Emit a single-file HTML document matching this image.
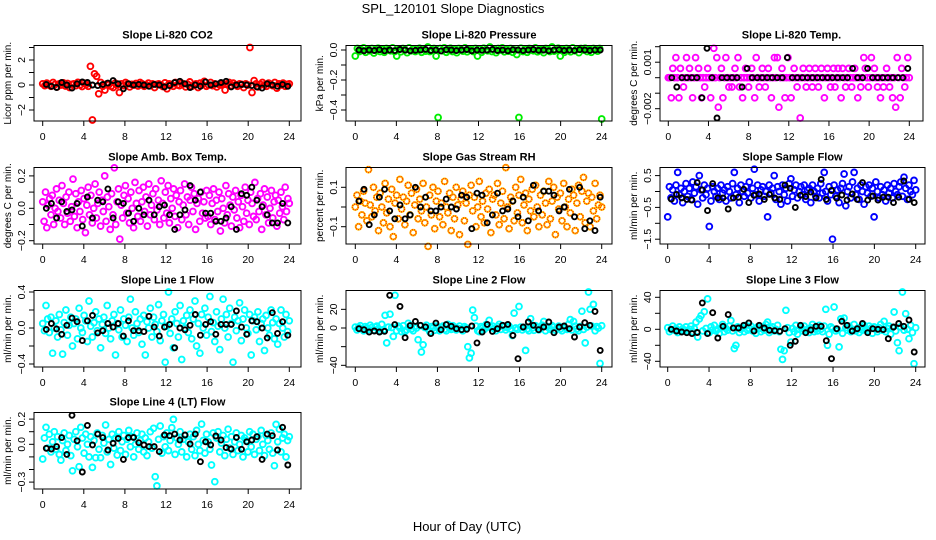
<!DOCTYPE html>
<html><head><meta charset="utf-8"><title>SPL_120101 Slope Diagnostics</title>
<style>
html,body{margin:0;padding:0;background:#fff;}
svg{display:block;font-family:"Liberation Sans",Arial,sans-serif;}
</style></head>
<body>
<svg id="chart" width="936" height="540" viewBox="0 0 936 540" xmlns="http://www.w3.org/2000/svg">
<rect x="0" y="0" width="936" height="540" fill="#fff"/>
<text x="453" y="13" text-anchor="middle" font-size="13">SPL_120101  Slope Diagnostics</text>
<text x="467" y="531" text-anchor="middle" font-size="13">Hour of Day (UTC)</text>
</svg>
<script>
const xTickLabels = [0,4,8,12,16,20,24];

const co2Vals = [0.1,-0.05,0.15,0.0,-0.1,0.2,0.05,-0.15,0.1,0.0,0.18,-0.08,0.12,-0.2,0.05,0.1,-0.05,0.22,0.0,-0.12,0.15,0.05,-0.1,1.5,-2.8,0.9,0.7,-0.7,0.2,-0.1,-0.4,0.1,0.05,-0.1,-0.2,0.15,0.0,-0.6,0.1,-0.05,0.2,0.1,-0.15,0.05,0.0,0.12,-0.08,0.2,0.1,-0.1,0.0,0.15,-0.05,0.1,-0.2,0.05,0.1,0.0,-0.12,0.18,-0.3,0.1,0.05,-0.1,0.2,0.0,-0.05,0.15,0.1,-0.15,0.05,0.25,-0.1,0.0,0.1,-0.2,0.15,0.05,0.3,-0.1,0.0,0.2,-0.05,0.1,-0.15,0.05,0.0,0.12,-0.4,0.1,0.2,-0.05,0.15,0.0,-0.1,0.1,0.05,-0.2,0.1,0.0,3.0,-0.6,0.35,0.1,-0.15,0.05,0.2,0.0,-0.1,0.15,0.05,-0.05,0.2,-0.25,0.1,0.0,0.15,-0.1,0.05,0.1];
const co2Black = [0.05,-0.1,-0.2,0.2,0.0,-0.25,0.1,0.25,0.2,0.0,-0.05,0.05,0.15,0.35,0.1,-0.3,0.1,0.0,0.05,0.0,-0.1,0.05,0.0,-0.15,-0.05,0.2,0.3,0.1,-0.2,0.0,-0.1,0.25,0.0,0.1,0.2,0.3,-0.15,0.0,0.05,0.0,-0.05,-0.15,-0.25,0.1,0.0,-0.1,0.05,-0.1];

const presVals = [-0.04,0.01,-0.01,0.0,0.015,-0.015,0.005,-0.005,0.01,-0.02,0.0,0.012,-0.01,0.005,-0.015,0.01,0.0,-0.005,0.015,-0.01,-0.04,0.005,-0.012,0.01,0.0,-0.018,0.015,-0.005,0.008,-0.01,0.0,0.012,-0.015,0.005,-0.008,0.02,-0.01,0.0,0.01,-0.04,-0.45,0.01,-0.005,0.015,-0.015,0.0,0.012,-0.01,0.005,-0.018,0.01,0.0,-0.008,0.015,-0.012,0.005,0.0,-0.01,0.01,-0.04,0.008,-0.015,0.012,0.0,-0.005,0.02,-0.01,0.005,-0.018,0.01,0.0,0.015,-0.012,0.005,-0.008,0.01,-0.015,0.0,-0.03,-0.45,0.012,-0.01,0.005,-0.015,0.01,0.0,-0.005,0.015,-0.012,0.008,0.0,-0.018,0.01,0.005,-0.01,0.02,-0.008,0.0,0.012,-0.04,0.005,-0.015,0.01,0.0,-0.012,0.015,-0.005,0.008,-0.018,0.01,0.0,0.012,-0.01,0.005,-0.015,0.01,0.0,-0.008,0.01,-0.46];
const presBlack = [0.0,-0.005,0.0,-0.003,0.002,-0.005,0.0,-0.004,0.003,0.0,-0.005,-0.002,0.0,0.004,-0.003,0.0,-0.006,0.002,0.0,-0.004,0.0,0.003,-0.005,0.0,-0.002,0.0,0.004,-0.003,0.0,-0.005,0.002,0.0,-0.004,0.0,0.003,-0.002,0.0,-0.005,0.0,0.002,-0.003,0.0,-0.004,0.002,0.0,-0.003,0.0,0.0];

const tempVals = [0,0,-0.0013,0.0006,0,0.0013,0,-0.0013,0.0006,0,-0.0006,0,0.0013,0,0.0006,0,-0.0013,0,0.0013,0,0.0006,0,-0.0013,0,-0.0006,0,0.0006,0,-0.0013,0,0.0019,0,0.0013,-0.0019,0,0.0006,-0.0013,0,0.0013,0,-0.0006,0,-0.0006,0,0.0006,0,0.0013,-0.0006,0,-0.0013,0,0.0006,0,-0.0006,0,0.0006,0,-0.0013,0.0013,0,-0.0006,0,0.0006,0,-0.0006,0,0.0006,0,-0.0013,0,0.0013,0,0.0013,-0.0019,0,0.0006,0,-0.0013,0,0.0013,0,-0.0013,0,0.0006,0,-0.0006,0,-0.0026,0,0.0006,0,-0.0006,0,0.0006,0,-0.0006,0,0.0006,0,-0.0006,0,0.0006,0,-0.0013,0,0.0006,0,-0.0006,0,0.0006,-0.0006,0,0.0006,0,-0.0013,0.0006,0,-0.0006,0,0.0006,0,-0.0006,0,0.0006,0,-0.0013,0,-0.0006,0,0.0013,0.0006,0,-0.0006,0,0.0013,0,0.0006,0,-0.0006,0,-0.0013,0,-0.0006,0,0.0006,0,-0.0006,0,-0.0013,0,-0.0019,0.0013,0,-0.0013,0.0006,0,-0.0006,0,0.0013,0];
const tempBlack = [0,-0.0006,0,0,0,0,-0.0013,0.0019,0,-0.0026,0,0,0,0,-0.0006,0.0006,0,0,0,0,0,0,0,0.0013,0,0,0,0,0,0,0,0,0,0,0,0,0.0006,0,0,0.0006,0,0,0,0,0,0,0,0.0006];

const ambVals = [0.04,-0.08,0.1,-0.12,0.02,0.06,-0.04,0.08,-0.1,0.0,0.12,-0.02,0.05,-0.06,0.14,0.03,-0.1,0.07,-0.03,0.1,-0.08,0.01,0.18,-0.05,0.09,-0.12,0.04,-0.02,0.11,-0.07,0.06,-0.15,0.02,0.13,-0.04,0.08,-0.09,0.0,0.15,-0.06,0.03,0.1,-0.11,0.05,-0.02,0.2,-0.08,0.07,0.01,-0.13,0.09,-0.04,0.25,-0.1,0.04,0.12,-0.19,0.02,-0.06,0.08,0.14,-0.03,0.06,-0.09,0.1,0.0,-0.12,0.16,0.03,-0.05,0.11,-0.08,0.04,0.13,-0.02,0.07,-0.11,0.15,-0.04,0.02,0.09,-0.07,0.12,-0.01,0.05,-0.1,0.17,0.03,-0.06,0.1,-0.03,0.14,-0.09,0.06,0.0,0.12,-0.05,0.08,-0.12,0.04,0.11,-0.07,0.02,0.15,-0.04,0.07,-0.1,0.05,0.13,-0.02,0.09,-0.13,0.03,0.06,-0.08,0.1,-0.03,0.04,-0.06,0.11,-0.05,0.08,-0.1,0.03,0.12,-0.07,0.05,-0.02,0.1,-0.14,0.06,0.0,-0.09,0.14,-0.04,0.09,0.02,-0.11,0.07,-0.01,0.11,-0.06,0.04,-0.12,0.08,0.01,-0.08,0.13,-0.03,0.05,-0.1,0.1,0.03,-0.05,0.16,-0.07,0.06,-0.02,0.09,-0.13,0.02,0.12,-0.04,0.07,-0.09,0.0,0.11,-0.06,0.04,0.08,-0.11,0.05,-0.03,0.1,0.01,-0.07,0.13,-0.02,0.06,0.03];
const ambBlack = [0.0,0.03,-0.06,0.04,-0.02,-0.01,0.03,-0.11,0.07,-0.06,0.05,0.04,0.12,-0.06,0.04,0.03,-0.03,-0.08,0.0,-0.04,0.05,-0.04,0.01,0.02,-0.04,-0.13,-0.04,-0.01,0.14,0.05,0.1,-0.03,-0.03,-0.08,-0.08,-0.06,0.01,-0.13,0.09,0.08,0.13,0.05,0.01,-0.04,-0.09,-0.09,0.03,-0.09];

const rhVals = [0.0,0.06,-0.1,0.03,-0.04,0.08,0.02,-0.07,0.19,0.01,-0.05,0.1,-0.02,0.05,-0.12,0.07,0.0,-0.08,0.12,-0.03,0.04,-0.1,0.09,-0.15,0.02,0.06,-0.06,0.14,-0.01,0.05,-0.09,0.03,0.11,-0.04,0.07,-0.13,0.01,0.09,-0.06,0.04,-0.02,0.12,-0.08,0.0,-0.2,0.06,-0.04,0.1,-0.11,0.03,0.08,-0.05,0.02,-0.09,0.13,0.0,-0.03,0.07,-0.12,0.05,-0.06,0.1,0.01,-0.14,0.04,0.08,-0.07,0.02,-0.19,0.06,0.11,-0.02,0.05,-0.1,0.0,0.13,-0.05,0.03,-0.08,0.07,-0.01,0.09,-0.13,0.04,0.06,-0.04,0.12,-0.09,0.02,0.08,-0.06,0.2,0.0,-0.11,0.05,0.03,-0.07,0.1,-0.03,0.06,0.14,-0.08,0.01,0.07,-0.12,0.04,-0.02,0.09,-0.05,0.11,0.0,-0.1,0.06,-0.04,0.08,0.02,-0.09,0.13,-0.06,0.03,0.1,-0.14,0.05,-0.01,0.07,-0.07,0.12,0.0,-0.1,0.04,-0.03,0.09,0.06,-0.12,0.02,0.11,-0.05,0.08,0.15,-0.08,0.03,0.07,-0.1,0.05,-0.02,0.12,-0.06,0.01,0.06,0.0];
const rhBlack = [0.03,0.09,-0.09,-0.04,0.05,0.09,-0.02,-0.06,0.01,-0.06,-0.04,0.1,0.0,0.05,-0.02,-0.02,0.0,0.04,0.0,-0.01,0.06,0.05,-0.11,0.07,0.06,-0.08,-0.04,0.07,-0.02,-0.01,0.03,-0.05,0.05,-0.07,0.11,-0.02,0.08,0.08,0.06,-0.02,0.0,0.09,-0.05,0.1,-0.11,-0.07,-0.12,0.05];

const flowVals = [-0.8,0.15,-0.2,0.05,-0.3,0.2,0.6,-0.1,0.1,-0.35,0.0,0.25,-0.15,0.1,-0.25,0.3,-0.05,0.15,-0.4,0.5,0.05,-0.2,0.2,-0.1,0.1,-1.1,-0.3,0.15,0.0,-0.15,0.1,-0.25,0.2,-0.05,0.05,-0.3,0.15,0.0,-0.2,0.25,0.6,-0.1,0.1,-0.35,0.2,0.0,-0.15,0.15,-0.05,0.3,-0.2,0.1,0.7,-0.1,0.2,-0.3,0.05,0.15,-0.15,0.0,-0.8,0.2,-0.05,0.1,0.5,-0.25,0.15,0.0,-0.4,0.2,-0.1,0.1,-0.3,0.25,0.4,-0.15,0.05,0.2,-0.2,0.0,0.15,-0.1,0.2,-0.25,0.05,0.1,-0.35,0.2,0.0,-0.15,0.1,-0.2,0.25,-0.05,0.6,0.0,-0.3,0.15,-0.1,-1.5,0.2,-0.15,0.05,-0.35,0.1,0.25,0.55,-0.45,0.0,0.15,-0.2,0.3,0.6,-0.1,0.1,-0.25,0.2,0.0,-0.4,0.15,-0.05,0.2,-0.15,0.1,-0.8,0.3,0.0,-0.2,0.15,-0.1,0.05,-0.3,0.2,-0.05,0.1,-0.2,0.25,0.0,-0.1,0.15,0.3,-0.15,0.45,0.1,-0.25,0.2,0.0,-0.1,0.35,0.05];
const flowBlack = [-0.24,-0.09,-0.2,-0.25,-0.27,0.28,0.05,-0.6,0.25,-0.2,-0.2,-0.55,-0.2,-0.18,0.07,-0.35,-0.12,-0.08,-0.25,-0.09,-0.2,-0.25,0.2,0.1,-0.5,-0.12,-0.16,-0.02,-0.2,0.38,-0.25,0.03,-0.21,-0.11,-0.27,-0.08,-0.25,0.28,-0.27,-0.14,-0.27,-0.18,-0.18,-0.35,-0.18,0.33,-0.25,-0.35];

const line1Vals = [0.05,-0.03,0.25,0.1,-0.05,0.12,-0.28,0.0,0.08,-0.1,0.15,-0.02,-0.29,0.06,0.2,-0.08,0.03,0.12,-0.2,0.05,0.1,-0.12,0.22,0.0,-0.05,0.14,0.08,-0.15,0.3,0.02,-0.1,0.06,0.18,-0.03,0.1,-0.22,0.04,0.12,-0.06,0.25,0.0,-0.12,0.08,0.15,-0.3,0.05,-0.02,0.2,-0.1,0.1,0.03,-0.15,0.12,0.32,0.0,-0.08,0.18,0.05,-0.05,0.1,-0.18,0.14,-0.3,0.07,0.0,0.22,-0.1,0.12,0.04,-0.04,0.26,-0.14,0.08,0.15,-0.38,0.02,0.4,-0.06,0.1,-0.22,0.18,0.05,-0.1,0.25,-0.35,0.08,0.0,0.14,-0.05,0.2,-0.12,0.1,0.3,-0.2,0.05,-0.28,0.15,0.0,0.22,-0.08,0.12,0.35,-0.04,0.06,-0.15,0.18,0.02,-0.24,0.1,0.32,0.0,0.15,-0.1,0.22,0.05,-0.38,0.12,-0.03,0.08,0.28,-0.14,0.1,0.2,0.0,-0.06,0.15,-0.3,0.08,0.12,-0.02,0.18,-0.15,0.05,0.1,-0.25,0.14,0.0,-0.08,0.2,0.06,-0.12,0.1,-0.18,0.05,0.2,0.0,-0.1,0.15,-0.04,0.08];
const line1Black = [-0.015,0.05,-0.01,-0.07,0.03,0.11,0.07,-0.14,0.08,0.14,-0.055,-0.03,0.05,0.01,0.05,-0.09,0.08,-0.03,-0.03,-0.04,0.13,0.01,-0.09,0.01,0.04,-0.22,0.0,-0.02,0.03,0.15,-0.08,0.04,0.07,-0.07,0.04,0.04,0.04,0.19,0.01,-0.07,0.08,0.07,0.0,-0.11,0.17,-0.06,0.07,-0.08];

const line2Vals = [1,-2,0.5,2.5,-1,-3,1.5,0,-1.5,3,0.5,-2.5,1,2,-1,-3.5,4,-2,13.6,-16,1,14.8,0.5,-9,35,-3,2,0,-4,2.5,-4,-2,5,2,-1,-3,1.5,0,-12.5,2.5,-25.7,-18,0.5,3,-1,-4,1.5,0,-2.5,2,1,-3,0.5,2,-1.5,-3,4,0,-1.5,2.5,1,-2,-0.5,2,-1,-3,1.5,0,-20,-32,-27,19.2,11,2,-3,-4,1.5,0,-1.5,3.5,1,8.2,0.5,2,-1,-3,1.5,4,-1.5,2.5,1,-2,0.5,2,-1,-8,16,0,-1.5,23,1,-2,0.5,-24,-1,-3,10,0,-2.5,2.5,1,-2,0.5,3,7,-3,1.5,0,-1.5,2.5,1,-2.5,0.5,2,-1,-3,1.5,0,-1.5,4,9,-2,7,2,-1,-3,1.5,18,-1.5,-16,1,38.6,20,2,25.3,-3,1.5,0,-38,2.5];
const line2Black = [-0.7,-1.8,-4.3,-3.2,-4.3,-3.5,35,3.6,23.2,-10.4,2.6,7.1,2.9,1.2,-6,5.3,-1.8,3.6,1.8,-0.7,-1.8,-1.4,2.1,-16,-4.3,3.9,-3.6,-0.7,2.9,3.9,-7.9,-32.9,1.1,6.4,2.9,-1.8,1.1,6.4,-5,1.1,2.1,-0.7,-9.6,1.1,5.7,2.9,17.8,-24];

const line3Vals = [2,-3,0,4,-1,1,-4,3,-2,0.5,-1,3,-2,0,4,-3,1,9,-9.6,13,17,-2,22,1,38,-4,3,-1,5,-2,0,-5,2,6,-3,1,-1,4,11,-2,-24,-20,3,-4,0,2,-3,5,-1,1,4,-2,0,-5,3,1,-3,2,-1,6,9,-4,1,3,-2,0,5,-3,-25,-37.6,-26.7,23.7,2,-4,-16,1,-3,5,-6,0,3,-2,4,-1,0,-4,2,6,-3,1,-2,5,0,-3,4,25,-20,-6,3,1,27.9,-2,0,-22,13,-5,14,2,-1,4,-3,0,6,-2,1,-4,3,-1,5,0,-2,4,1,-5,3,0,-3,2,6,-1,10,-3,1,4,-6,2,21.6,-2,-16.7,-26.7,3,46.6,-1,19.5,0,-11.7,5,-4,-43,2];
const line3Black = [0,-2.1,-3.4,-4.2,-5.4,-4,33,-5.4,20.8,-10.9,3.7,18.4,1.6,1.6,5,8,-2.1,5,1.6,-1.3,-1.7,-2.5,0.8,-20,-15,5,-4.2,-0.9,3.7,3.7,-14.2,-36.7,0.8,10,5,-2.1,0.8,7.2,-4.2,0.8,0,-0.4,-11.7,2.9,7.2,3.7,11.6,-28.4];

const line4Vals = [-0.117,0.05,0.135,-0.03,0.08,-0.06,0.02,0.1,-0.04,0.06,-0.08,-0.125,0.03,0.09,-0.05,0.0,0.07,-0.09,-0.21,0.04,0.1,-0.02,-0.178,0.135,0.05,-0.07,0.08,0.0,-0.1,0.06,-0.183,0.03,-0.106,0.09,-0.04,-0.106,0.07,0.01,0.153,-0.06,0.04,-0.16,0.08,-0.03,0.05,-0.085,0.1,-0.05,0.02,0.07,-0.08,0.04,0.11,-0.02,0.06,-0.1,0.0,0.09,-0.04,0.03,0.08,-0.06,0.05,-0.09,0.02,0.1,-0.03,0.127,-0.257,-0.33,0.04,0.145,-0.07,0.06,-0.02,0.09,-0.05,0.03,0.132,0.198,-0.08,0.05,0.0,0.1,-0.06,0.04,0.07,-0.1,0.02,0.08,-0.04,0.06,-0.09,0.11,0.0,-0.05,0.16,0.03,-0.07,0.08,0.02,-0.04,-0.164,0.09,-0.297,0.05,0.1,-0.06,0.01,0.07,-0.09,0.04,0.12,-0.03,0.06,-0.08,0.02,0.09,-0.05,0.0,0.07,-0.1,0.05,0.03,-0.06,0.1,-0.02,0.08,-0.08,0.04,0.06,-0.05,0.11,0.0,-0.09,0.07,0.03,-0.04,0.09,-0.07,-0.17,0.158,0.02,0.12,-0.06,0.05,0.08,-0.1,0.03,0.06];
const line4Black = [-0.032,-0.037,-0.018,0.053,-0.08,0.23,0.028,-0.22,0.15,-0.005,0.081,0.053,-0.045,0.008,0.047,-0.12,0.053,0.055,0.013,-0.005,-0.018,-0.018,-0.058,0.074,0.068,0.081,0.034,0.074,0.002,0.081,-0.138,0.02,-0.005,0.066,0.034,-0.026,-0.037,0.055,-0.04,0.02,0.034,0.06,-0.12,0.081,0.068,-0.045,0.135,-0.164];

const panels = [
 {id:'co2', title:'Slope Li-820 CO2', ytitle:'Licor ppm per min.', color:'#ff0000', vals:co2Vals, black:co2Black,
  box:[34,45.5,301,121], x0:42.7, x24:289.3, y0:85, k:12.5, ticks:[-2,-1,0,1,2,3], labels:[[-2,'\u22122'],[0,'0'],[2,'2']]},
 {id:'pressure', title:'Slope Li-820 Pressure', ytitle:'kPa per min.', color:'#00ee00', vals:presVals, black:presBlack,
  box:[346,45.5,612,121], x0:355.3, x24:601.7, y0:50, k:150, ticks:[0,-0.1,-0.2,-0.3,-0.4], labels:[[0,'0.0'],[-0.2,'\u22120.2'],[-0.4,'\u22120.4']]},
 {id:'temp', title:'Slope Li-820 Temp.', ytitle:'degrees C per min.', color:'#ff00ff', vals:tempVals, black:tempBlack,
  box:[660,45.5,923,121], x0:668.3, x24:909.3, y0:77.7, k:15500, ticks:[0.002,0.001,0,-0.001,-0.002], labels:[[0.001,'0.001'],[-0.002,'\u22120.002']]},
 {id:'amb-temp', title:'Slope Amb. Box Temp.', ytitle:'degrees C per min.', color:'#ff00ff', vals:ambVals, black:ambBlack,
  box:[34,167.5,301,244], x0:42.7, x24:289.3, y0:208.3, k:162, ticks:[0.2,0.1,0,-0.1,-0.2], labels:[[0.2,'0.2'],[0,'0.0'],[-0.2,'\u22120.2']]},
 {id:'rh', title:'Slope Gas Stream RH', ytitle:'percent per min.', color:'rh', vals:rhVals, black:rhBlack,
  box:[346,167.5,612,244], x0:355.3, x24:601.7, y0:207, k:197, ticks:[0.1,0,-0.1], labels:[[0.1,'0.1'],[-0.1,'\u22120.1']]},
 {id:'sample-flow', title:'Slope Sample Flow', ytitle:'ml/min per min.', color:'#0000ff', vals:flowVals, black:flowBlack,
  box:[660,167.5,925,244], x0:667.7, x24:915.7, y0:191.5, k:31.8, ticks:[0.5,0,-0.5,-1,-1.5], labels:[[0.5,'0.5'],[-0.5,'\u22120.5'],[-1.5,'\u22121.5']]},
 {id:'line1-flow', title:'Slope Line 1 Flow', ytitle:'ml/min per min.', color:'#00ffff', vals:line1Vals, black:line1Black,
  box:[34,290.5,301,367], x0:42.7, x24:289.3, y0:328, k:90, ticks:[0.4,0.2,0,-0.2,-0.4], labels:[[0.4,'0.4'],[0,'0.0'],[-0.4,'\u22120.4']]},
 {id:'line2-flow', title:'Slope Line 2 Flow', ytitle:'ml/min per min.', color:'#00ffff', vals:line2Vals, black:line2Black,
  box:[346,290.5,612,367], x0:355.3, x24:601.7, y0:328, k:0.933, ticks:[20,0,-20,-40], labels:[[20,'20'],[0,'0'],[-40,'\u221240']]},
 {id:'line3-flow', title:'Slope Line 3 Flow', ytitle:'ml/min per min.', color:'#00ffff', vals:line3Vals, black:line3Black,
  box:[660,290.5,925,367], x0:667.7, x24:915.7, y0:329.3, k:0.8, ticks:[40,20,0,-20,-40], labels:[[40,'40'],[0,'0'],[-40,'\u221240']]},
 {id:'line4-flow', title:'Slope Line 4 (LT) Flow', ytitle:'ml/min per min.', color:'#00ffff', vals:line4Vals, black:line4Black,
  box:[34,412.5,301,489], x0:42.7, x24:289.3, y0:444.3, k:126, ticks:[0.2,0.1,0,-0.1,-0.2,-0.3], labels:[[0.2,'0.2'],[0,'0.0'],[-0.3,'\u22120.3']]}
];

const NS = 'http://www.w3.org/2000/svg';
const svg = document.getElementById('chart');
function mk(tag, parent){ const e = document.createElementNS(NS, tag); parent.appendChild(e); return e; }

panels.forEach(p => {
  const g = mk('g', svg);
  
  
  const [bx1, by1, bx2, by2] = p.box;
  const sx = h => p.x0 + (p.x24 - p.x0) * h / 24;
  const sy = v => p.y0 - v * p.k;
  const cx = (bx1 + bx2) / 2;

  const t = mk('text', g);
  
  
  t.setAttribute('x', cx); t.setAttribute('y', by1 - 7);
  t.setAttribute('text-anchor', 'middle'); t.setAttribute('font-size', '11'); t.setAttribute('font-weight', 'bold');
  t.textContent = p.title;

  const n = p.vals.length;
  const cg = mk('g', g);
  
  
  p.vals.forEach((v, i) => {
    const c = mk('circle', cg);
    
    
    c.setAttribute('cx', sx(i * 24 / (n - 1)).toFixed(1));
    c.setAttribute('cy', sy(v).toFixed(1));
    c.setAttribute('r', '2.9');
    c.setAttribute('fill', 'none');
    if (p.color === 'rh') {
      c.setAttribute('stroke', '#ffd400'); c.setAttribute('stroke-width', '2');
      const d = mk('circle', cg);
      
      
      d.setAttribute('cx', sx(i * 24 / (n - 1)).toFixed(1));
      d.setAttribute('cy', sy(v).toFixed(1));
      d.setAttribute('r', '2.9');
      d.setAttribute('fill', 'none');
      d.setAttribute('stroke', '#ff2000'); d.setAttribute('stroke-width', '1.4'); d.setAttribute('stroke-dasharray', '1 1');
    } else {
      c.setAttribute('stroke', p.color); c.setAttribute('stroke-width', '1.9');
    }
  });

  const m = p.black.length;
  const kg = mk('g', g);
  
  
  p.black.forEach((v, i) => {
    const c = mk('circle', kg);
    
    
    c.setAttribute('cx', sx((i + 1) * 24 / m - 0.15).toFixed(1));
    c.setAttribute('cy', sy(v).toFixed(1));
    c.setAttribute('r', '2.5');
    c.setAttribute('fill', 'none');
    c.setAttribute('stroke', '#000'); c.setAttribute('stroke-width', '1.9');
  });

  const r = mk('rect', g);
  
  
  r.setAttribute('x', bx1); r.setAttribute('y', by1);
  r.setAttribute('width', bx2 - bx1); r.setAttribute('height', by2 - by1);
  r.setAttribute('fill', 'none'); r.setAttribute('stroke', '#000'); r.setAttribute('stroke-width', '1');

  const xl = mk('line', g);
  
  
  xl.setAttribute('x1', sx(0)); xl.setAttribute('x2', sx(24)); xl.setAttribute('y1', by2); xl.setAttribute('y2', by2);
  xl.setAttribute('stroke', '#000');
  xTickLabels.forEach(h => {
    const tk = mk('line', g);
    
    
    tk.setAttribute('x1', sx(h)); tk.setAttribute('x2', sx(h)); tk.setAttribute('y1', by2); tk.setAttribute('y2', by2 + 5);
    tk.setAttribute('stroke', '#000');
    const tl = mk('text', g);
    
    
    tl.setAttribute('x', sx(h)); tl.setAttribute('y', by2 + 19);
    tl.setAttribute('text-anchor', 'middle'); tl.setAttribute('font-size', '10.5');
    tl.textContent = h;
  });

  p.ticks.forEach(v => {
    const tk = mk('line', g);
    
    
    tk.setAttribute('x1', bx1 - 5); tk.setAttribute('x2', bx1); tk.setAttribute('y1', sy(v)); tk.setAttribute('y2', sy(v));
    tk.setAttribute('stroke', '#000');
  });
  p.labels.forEach(([v, s]) => {
    const tl = mk('text', g);
    
    
    const x = bx1 - 9, y = sy(v);
    tl.setAttribute('x', x); tl.setAttribute('y', y);
    tl.setAttribute('transform', 'rotate(-90 ' + x + ' ' + y + ')');
    tl.setAttribute('text-anchor', 'middle'); tl.setAttribute('font-size', '10.5');
    tl.textContent = s;
  });
  const yt = mk('text', g);
  
  
  const tx = bx1 - 23, ty = (by1 + by2) / 2;
  yt.setAttribute('x', tx); yt.setAttribute('y', ty);
  yt.setAttribute('transform', 'rotate(-90 ' + tx + ' ' + ty + ')');
  yt.setAttribute('text-anchor', 'middle'); yt.setAttribute('font-size', '10');
  yt.textContent = p.ytitle;
});
</script>
</body></html>
